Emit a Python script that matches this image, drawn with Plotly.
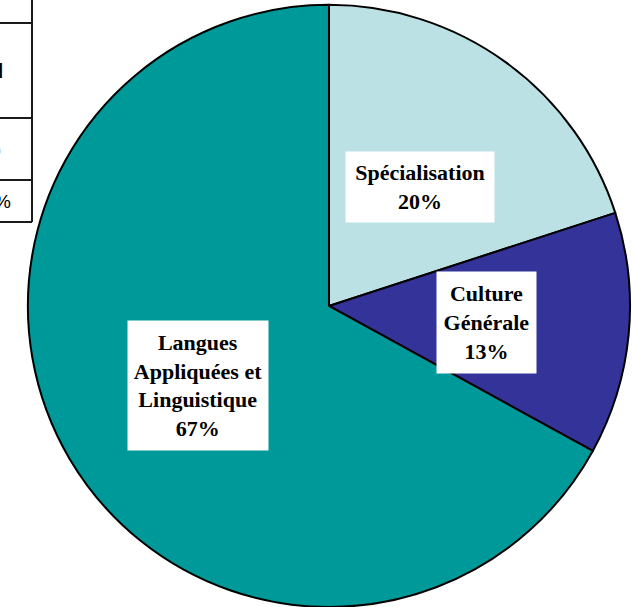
import plotly.graph_objects as go

# Data
categories = ["Spécialisation", "Culture Générale", "Langues Appliquées et Linguistique"]
values = [20, 13, 67]
label_texts = ["Spécialisation<br>20%", "Culture<br>Générale<br>13%", "Langues<br>Appliquées et<br>Linguistique<br>67%"]
colors = ["#BCE1E4", "#333399", "#009999"]

W, H = 632, 607

def px(x):
    return x / W

def py(y):
    return 1 - y / H

fig = go.Figure()
fig.add_trace(go.Pie(
    labels=categories,
    values=values,
    sort=False,
    direction="clockwise",
    rotation=0,
    marker=dict(colors=colors, line=dict(color="#000000", width=2)),
    textinfo="none",
    hoverinfo="label+percent",
    domain=dict(x=[0.041, 1.0], y=[0.0, 0.992]),
    showlegend=False,
))

# label boxes (position centre px, size)
boxes = [
    (420, 187, 140, 62),
    (486, 322, 91, 93),
    (198, 385, 132, 121),
]
annotations = []
for txt, (cx, cy, bw, bh) in zip(label_texts, boxes):
    annotations.append(dict(
        text="<b>" + txt + "</b>", x=px(cx), y=py(cy), xref="paper", yref="paper",
        xanchor="center", yanchor="middle", showarrow=False,
        width=bw, height=bh, align="center", valign="middle",
        bgcolor="#FFFFFF", borderpad=4,
        font=dict(family="Liberation Serif", size=22, color="#000000"),
    ))

# fragment of an underlying table at top-left
annotations += [
    dict(text="<b>d</b>", x=px(5), y=py(71), xref="paper", yref="paper", xanchor="right",
         yanchor="middle", showarrow=False, font=dict(family="Liberation Sans", size=20, color="#000")),
    dict(text="o", x=px(3), y=py(150), xref="paper", yref="paper", xanchor="right",
         yanchor="middle", showarrow=False, font=dict(family="Liberation Sans", size=18, color="#999999")),
    dict(text="%", x=px(13), y=py(201), xref="paper", yref="paper", xanchor="right",
         yanchor="middle", showarrow=False, font=dict(family="Liberation Sans", size=19, color="#000")),
]

shapes = []
line_style = dict(color="#1a1a1a", width=2)
shapes.append(dict(type="line", xref="paper", yref="paper", x0=px(32), x1=px(32), y0=py(0), y1=py(222), line=line_style, layer="below"))
for yy in [23, 118, 180, 222]:
    shapes.append(dict(type="line", xref="paper", yref="paper", x0=px(0), x1=px(32), y0=py(yy), y1=py(yy), line=line_style, layer="below"))

fig.update_layout(
    width=W, height=H,
    margin=dict(l=0, r=0, t=0, b=0),
    paper_bgcolor="#FFFFFF", plot_bgcolor="#FFFFFF",
    annotations=annotations,
    shapes=shapes,
)

fig.write_html("out.html", config={"displayModeBar": False},
               post_script="document.body.style.margin='0px';document.body.style.overflow='hidden';")
